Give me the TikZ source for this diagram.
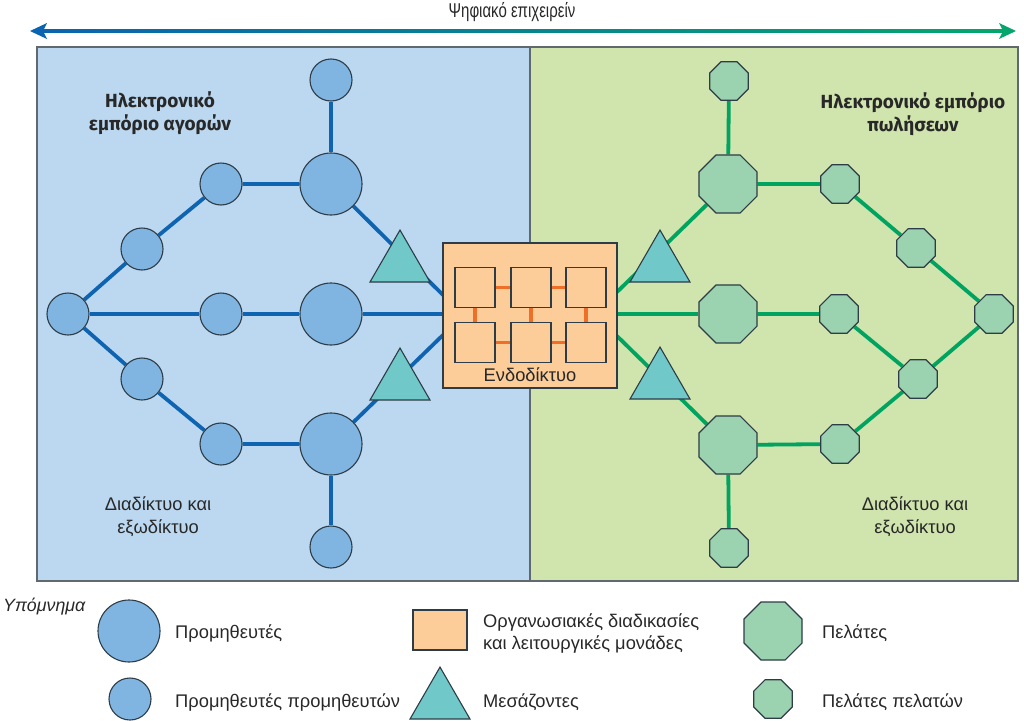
\documentclass[tikz,border=0pt]{standalone}
\usepackage{fontspec}
\setmainfont{Liberation Sans}
\newfontfamily\labfont{Fira Sans}
\usetikzlibrary{shapes.geometric}
\definecolor{panelBlue}{RGB}{187,216,240}
\definecolor{panelGreen}{RGB}{208,228,173}
\definecolor{panelEdge}{RGB}{95,105,110}
\definecolor{supFill}{RGB}{128,181,226}
\definecolor{cusFill}{RGB}{155,210,175}
\definecolor{midFill}{RGB}{112,200,200}
\definecolor{boxFill}{RGB}{252,204,153}
\definecolor{nodeEdge}{RGB}{45,60,70}
\definecolor{lineBlue}{RGB}{14,100,176}
\definecolor{lineGreen}{RGB}{0,163,95}
\definecolor{lineOrange}{RGB}{238,112,40}
\definecolor{arrBlue}{RGB}{10,100,175}
\definecolor{arrGreen}{RGB}{5,165,110}
\definecolor{txt}{RGB}{40,40,40}
\pgfdeclarelayer{back}
\pgfdeclarelayer{edges}
\pgfsetlayers{back,edges,main}
\tikzset{
  bigsup/.style={circle, draw=nodeEdge, line width=1.1pt, fill=supFill, minimum size=62pt, inner sep=0pt},
  smallsup/.style={bigsup, minimum size=42pt},
  bigcus/.style={regular polygon, regular polygon sides=8, draw=nodeEdge, line width=1.1pt, fill=cusFill, minimum size=62.8pt, inner sep=0pt},
  smallcus/.style={bigcus, minimum size=41.7pt},
  mid/.style={regular polygon, regular polygon sides=3, draw=nodeEdge, line width=1.1pt, fill=midFill, minimum size=69.3pt, inner sep=0pt},
  orgbox/.style={rectangle, draw=nodeEdge, line width=1.1pt, fill=boxFill, inner sep=0pt},
  unitsq/.style={orgbox, minimum size=40pt},
  blueline/.style={draw=lineBlue, line width=3.8pt},
  greenline/.style={draw=lineGreen, line width=3.8pt},
  orangeline/.style={draw=lineOrange, line width=3.4pt},
  lab/.style={text=txt, inner sep=0pt},
  boldlab/.style={lab, font=\labfont\bfseries\fontsize{19}{23}\selectfont, align=center},
  plainlab/.style={lab, font=\fontsize{18.3}{23}\selectfont, align=center},
  leglab/.style={lab, font=\fontsize{18.3}{22}\selectfont, align=left, anchor=west}
}
\begin{document}
\begin{tikzpicture}[x=1pt,y=-1pt]
\useasboundingbox (0,0) rectangle (1024,720);

% panels
\begin{pgfonlayer}{back}
\fill[panelBlue] (37,47) rectangle (530,581);
\fill[panelGreen] (530,47) rectangle (1018,581);
\draw[panelEdge, line width=1.8pt] (37,47) rectangle (1018,581);
\draw[panelEdge, line width=1.2pt] (530,47) -- (530,581);
\end{pgfonlayer}

% top arrow
\coordinate (arrL) at (30,31);
\coordinate (arrR) at (1016,31);
\shade[left color=arrBlue, right color=arrGreen] (42,29.2) rectangle (1004,32.8);
\fill[arrBlue] (arrL) -- ++(17,-8) -- ++(-4,8) -- ++(4,8) -- cycle;
\fill[arrGreen] (arrR) -- ++(-17,-8) -- ++(4,8) -- ++(-4,8) -- cycle;
\node[lab] (title) at (512,12) {\scalebox{0.75}[1]{\fontsize{20}{22}\selectfont Ψηφιακό επιχειρείν}};

% central box
\node[orgbox, minimum width=174pt, minimum height=145pt] (intra) at (530,315.5) {};
\node[unitsq] (s1) at (475,287.5) {};
\node[unitsq] (s2) at (531,287.5) {};
\node[unitsq] (s3) at (586,287.5) {};
\node[unitsq] (s4) at (475,342.5) {};
\node[unitsq] (s5) at (531,342.5) {};
\node[unitsq] (s6) at (586,342.5) {};
\draw[orangeline] (s1) -- (s2);
\draw[orangeline] (s2) -- (s3);
\draw[orangeline] (s4) -- (s5);
\draw[orangeline] (s5) -- (s6);
\draw[orangeline] (s1) -- (s4);
\draw[orangeline] (s2) -- (s5);
\draw[orangeline] (s3) -- (s6);
\node[lab, font=\fontsize{18.3}{20}\selectfont] (intralab) at (530,375) {Ενδοδίκτυο};
\coordinate (inL1) at (443,295);
\coordinate (inL2) at (443,314);
\coordinate (inL3) at (443,335);
\coordinate (inR1) at (617,292);
\coordinate (inR2) at (617,314);
\coordinate (inR3) at (617,336);

% left network
\node[smallsup] (lt) at (331,80) {};
\node[bigsup] (lb1) at (331,184) {};
\node[bigsup] (lb2) at (331,314) {};
\node[bigsup] (lb3) at (331,444) {};
\node[smallsup] (lbot) at (331,547) {};
\node[smallsup] (la1) at (221,184) {};
\node[smallsup] (la2) at (221,314) {};
\node[smallsup] (la3) at (221,444) {};
\node[smallsup] (lc1) at (142,249) {};
\node[smallsup] (lc3) at (142,379) {};
\node[smallsup] (lo) at (68,314) {};
\node[mid] (lm1) at (400,264.7) {};
\node[mid] (lm2) at (400,382.7) {};

% right network
\node[smallcus] (rt) at (729,81) {};
\node[bigcus] (rb1) at (728,184) {};
\node[bigcus] (rb2) at (728,314) {};
\node[bigcus] (rb3) at (728,445) {};
\node[smallcus] (rbot) at (729,548) {};
\node[smallcus] (ra1) at (840,184) {};
\node[smallcus] (ra2) at (839,314) {};
\node[smallcus] (ra3) at (840,444) {};
\node[smallcus] (rc1) at (916,248) {};
\node[smallcus] (rc3) at (918,379) {};
\node[smallcus] (ro) at (994,314) {};
\node[mid] (rm1) at (660,264.7) {};
\node[mid] (rm2) at (660,381.7) {};

\begin{pgfonlayer}{edges}
\draw[blueline] (lt) -- (lb1);
\draw[blueline] (lb3) -- (lbot);
\draw[blueline] (lo) -- (lc1) -- (la1) -- (lb1);
\draw[blueline] (lo) -- (la2) -- (lb2) -- (inL2);
\draw[blueline] (lo) -- (lc3) -- (la3) -- (lb3);
\draw[blueline] (lb1) -- (inL1);
\draw[blueline] (lb3) -- (inL3);
\draw[greenline] (rt) -- (rb1);
\draw[greenline] (rb3) -- (rbot);
\draw[greenline] (inR1) -- (rb1);
\draw[greenline] (inR2) -- (rb2);
\draw[greenline] (inR3) -- (rb3);
\draw[greenline] (rb1) -- (ra1) -- (rc1) -- (ro);
\draw[greenline] (rb2) -- (ra2) -- (rc3);
\draw[greenline] (rb3) -- (ra3) -- (rc3) -- (ro);
\end{pgfonlayer}

% panel labels
\node[boldlab] (ltitle) at (160,113) {Ηλεκτρονικό\\εμπόριο αγορών};
\node[boldlab] (rtitle) at (913,114) {Ηλεκτρονικό εμπόριο\\πωλήσεων};
\node[plainlab] (lnet) at (158,517) {Διαδίκτυο και\\εξωδίκτυο};
\node[plainlab] (rnet) at (915,517) {Διαδίκτυο και\\εξωδίκτυο};

% legend
\node[lab, font=\itshape\fontsize{17.8}{20}\selectfont, anchor=west] (legt) at (3,607) {Υπόμνημα};
\node[bigsup] (k1) at (129,631) {};
\node[leglab] (k1t) at (175,633) {Προμηθευτές};
\node[smallsup] (k2) at (130,699) {};
\node[leglab] (k2t) at (175,702) {Προμηθευτές προμηθευτών};
\node[orgbox, minimum width=54pt, minimum height=40pt] (k3) at (440,630) {};
\node[leglab] (k3t) at (483,633) {Οργανωσιακές διαδικασίες\\και λειτουργικές μονάδες};
\node[mid] (k4) at (440,701.7) {};
\node[leglab] (k4t) at (483,702) {Μεσάζοντες};
\node[bigcus] (k5) at (773,631) {};
\node[leglab] (k5t) at (822,633) {Πελάτες};
\node[smallcus] (k6) at (773,699) {};
\node[leglab] (k6t) at (822,702) {Πελάτες πελατών};
\end{tikzpicture}
\end{document}
